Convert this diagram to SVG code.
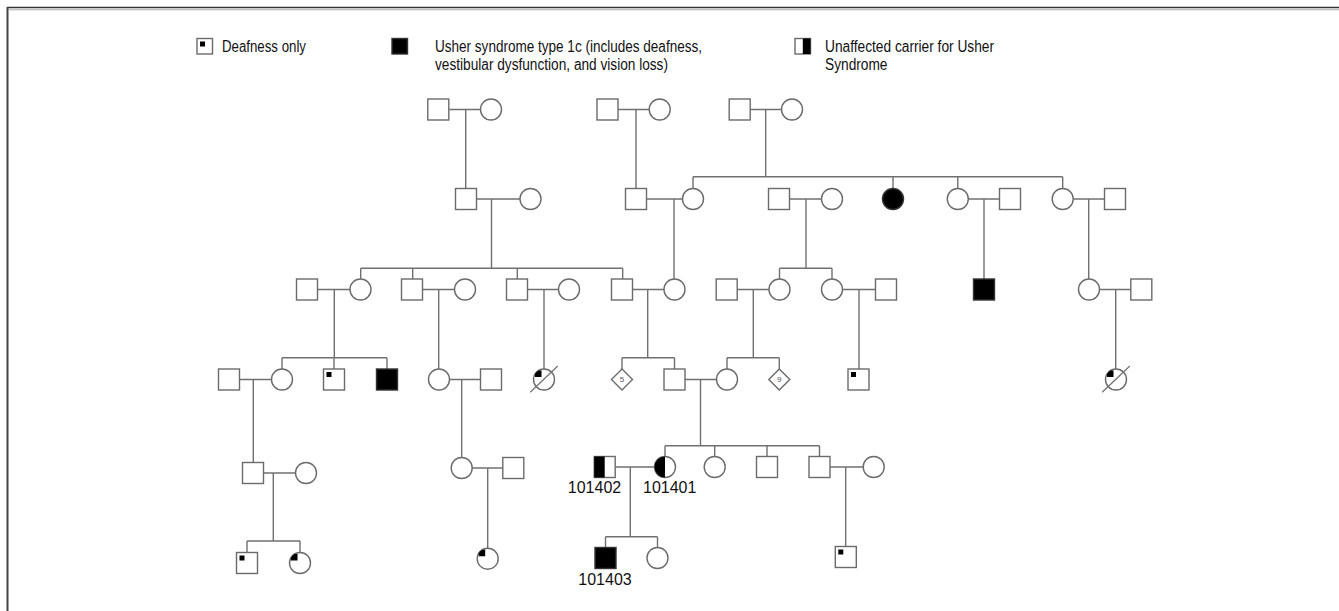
<svg xmlns="http://www.w3.org/2000/svg" xmlns:xlink="http://www.w3.org/1999/xlink" width="1339" height="611" viewBox="0 0 1339 611">
<style>
.n{fill:#fff;stroke:#6b6b6b;stroke-width:1.4}
.b{fill:#000;stroke:#333;stroke-width:1.4}
.k{fill:#000;stroke:none}
.c path{fill:none;stroke:#707070;stroke-width:1.4}
.d{stroke:#707070;stroke-width:1.2}
text{font-family:"Liberation Sans",Arial,Helvetica,sans-serif;fill:#111}
.lg{font-size:16px}
.id{font-size:16px}
.dm{font-size:8px;fill:#555;text-anchor:middle}
</style>
<defs>
<path id="cm" class="k" d="M-2.5-2.5V-9H-5.41A10.5 10.5 0 0 0 -9 -5.41V-2.5Z"/>
</defs>
<rect width="1339" height="611" fill="#fff"/>
<g id="frame">
<line x1="7" y1="7.5" x2="1339" y2="7.5" stroke="#333" stroke-width="1.5"/>
<line x1="9" y1="9.8" x2="1339" y2="9.8" stroke="#aaa" stroke-width="1"/>
<line x1="7.5" y1="7" x2="7.5" y2="611" stroke="#444" stroke-width="2"/>
</g>
<g id="legend">
<rect class="n" x="197" y="38.5" width="15.5" height="15.5"/>
<rect class="k" x="200" y="41.5" width="5" height="5"/>
<text class="lg" x="222" y="51.5" textLength="84" lengthAdjust="spacingAndGlyphs">Deafness only</text>
<rect class="b" x="392" y="38.5" width="15.5" height="15.5"/>
<text class="lg" x="435" y="51.5" textLength="267" lengthAdjust="spacingAndGlyphs">Usher syndrome type 1c (includes deafness,</text>
<text class="lg" x="435" y="69.5" textLength="233" lengthAdjust="spacingAndGlyphs">vestibular dysfunction, and vision loss)</text>
<rect class="n" x="795" y="38.5" width="15.5" height="15.5"/>
<rect class="k" x="802.8" y="38.5" width="7.7" height="15.5"/>
<text class="lg" x="825" y="51.5" textLength="169" lengthAdjust="spacingAndGlyphs">Unaffected carrier for Usher</text>
<text class="lg" x="825" y="69.5" textLength="62.5" lengthAdjust="spacingAndGlyphs">Syndrome</text>
</g>
<g class="c" id="connectors">
<path d="M449.3 109.5H480.5M465.7 109.5V188.5M618.3 109.5H649.2M636 109.5V188.5M750.2 109.5H781.5M765.7 109.5V176.7M693 176.7H1062.7M693 176.7V188.5M893 176.7V188.5M957.8 176.7V188.5M1062.7 176.7V188.5"/>
<path d="M476.5 199H520M491.5 199V268.3M646.5 199H682.5M674 199V279M789.5 199H821.5M806 199V268.3M968.3 199H999.5M984 199V279M1073.2 199H1104.5M1088.7 199V279"/>
<path d="M360.7 268.3H622.7M360.7 268.3V279M412.7 268.3V279M517.3 268.3V279M622.7 268.3V279M317.5 289.5H350M334.3 289.5V357.7M422.5 289.5H454.5M438.7 289.5V369M527.5 289.5H558.5M544 289.5V369M632.5 289.5H664M647.7 289.5V357.7M779.5 268.3H832M779.5 268.3V279M832 268.3V279M737.2 289.5H769M753.3 289.5V357.7M842.5 289.5H875.5M859 289.5V369M1099.5 289.5H1130.8M1115.7 289.5V369"/>
<path d="M282 357.7H387M282 357.7V369M334 357.7V369M387 357.7V369M239.5 379.5H271.5M253.3 379.5V462.5M449.5 379.5H480.5M461.7 379.5V457.5M622 357.7H674.5M622 357.7V369M674.5 357.7V369M685 379.5H716.5M700.5 379.5V445.7M727 357.7H779.3M727 357.7V369M779.3 357.7V369"/>
<path d="M263.5 473H295.5M273.3 473V541M247 541H300M247 541V552.5M300 541V552.5M472.2 468H502.8M487.7 468V548.2M665 445.7H819.5M665 445.7V456.5M714.7 445.7V456.5M767 445.7V456.5M819.5 445.7V456.5M615.2 467H654.5M630.3 467V536.7M605.5 536.7H657.5M605.5 536.7V547.5M657.5 536.7V547.5M830 467H863.2M845.7 467V546.5"/>
</g>
<g id="gen1">
<g id="g1a-m"><rect class="n" x="427.8" y="99" width="21" height="21"/></g>
<g id="g1a-f"><circle class="n" cx="491" cy="109.5" r="10.5"/></g>
<g id="g1b-m"><rect class="n" x="597" y="99" width="21" height="21"/></g>
<g id="g1b-f"><circle class="n" cx="659.7" cy="109.5" r="10.5"/></g>
<g id="g1c-m"><rect class="n" x="729.2" y="99" width="21" height="21"/></g>
<g id="g1c-f"><circle class="n" cx="792" cy="109.5" r="10.5"/></g>
</g>
<g id="gen2">
<g id="g2-1"><rect class="n" x="455.5" y="188.5" width="21" height="21"/></g>
<g id="g2-2"><circle class="n" cx="530.5" cy="199" r="10.5"/></g>
<g id="g2-3"><rect class="n" x="625.5" y="188.5" width="21" height="21"/></g>
<g id="g2-4"><circle class="n" cx="693" cy="199" r="10.5"/></g>
<g id="g2-5"><rect class="n" x="768.5" y="188.5" width="21" height="21"/></g>
<g id="g2-6"><circle class="n" cx="832" cy="199" r="10.5"/></g>
<g id="g2-7"><circle class="b" cx="893" cy="199" r="10.5"/></g>
<g id="g2-8"><circle class="n" cx="957.8" cy="199" r="10.5"/></g>
<g id="g2-9"><rect class="n" x="999.5" y="188.5" width="21" height="21"/></g>
<g id="g2-10"><circle class="n" cx="1062.7" cy="199" r="10.5"/></g>
<g id="g2-11"><rect class="n" x="1104.5" y="188.5" width="21" height="21"/></g>
</g>
<g id="gen3">
<g id="g3-1"><rect class="n" x="296.5" y="279" width="21" height="21"/></g>
<g id="g3-2"><circle class="n" cx="360.5" cy="289.5" r="10.5"/></g>
<g id="g3-3"><rect class="n" x="401.5" y="279" width="21" height="21"/></g>
<g id="g3-4"><circle class="n" cx="465" cy="289.5" r="10.5"/></g>
<g id="g3-5"><rect class="n" x="506.5" y="279" width="21" height="21"/></g>
<g id="g3-6"><circle class="n" cx="569" cy="289.5" r="10.5"/></g>
<g id="g3-7"><rect class="n" x="611.5" y="279" width="21" height="21"/></g>
<g id="g3-8"><circle class="n" cx="674.5" cy="289.5" r="10.5"/></g>
<g id="g3-9"><rect class="n" x="716.2" y="279" width="21" height="21"/></g>
<g id="g3-10"><circle class="n" cx="779.5" cy="289.5" r="10.5"/></g>
<g id="g3-11"><circle class="n" cx="832" cy="289.5" r="10.5"/></g>
<g id="g3-12"><rect class="n" x="875.5" y="279" width="21" height="21"/></g>
<g id="g3-13"><rect class="b" x="973.5" y="279" width="21" height="21"/></g>
<g id="g3-14"><circle class="n" cx="1089" cy="289.5" r="10.5"/></g>
<g id="g3-15"><rect class="n" x="1130.8" y="279" width="21" height="21"/></g>
</g>
<g id="gen4">
<g id="g4-1"><rect class="n" x="218.5" y="369" width="21" height="21"/></g>
<g id="g4-2"><circle class="n" cx="282" cy="379.5" r="10.5"/></g>
<g id="g4-3"><rect class="n" x="323.5" y="369" width="21" height="21"/><rect class="k" x="326.5" y="372" width="5" height="5"/></g>
<g id="g4-4"><rect class="b" x="376.5" y="369" width="21" height="21"/></g>
<g id="g4-5"><circle class="n" cx="439" cy="379.5" r="10.5"/></g>
<g id="g4-6"><rect class="n" x="480.5" y="369" width="21" height="21"/></g>
<g id="g4-7"><circle class="n" cx="544" cy="379.5" r="10.5"/><use xlink:href="#cm" x="544" y="379.5"/><line class="d" x1="530.2" y1="392.3" x2="557.8" y2="366"/></g>
<g id="g4-8"><path class="n" d="M622 369L632.5 379.5L622 390L611.5 379.5Z"/><text class="dm" x="622" y="382.3">5</text></g>
<g id="g4-9"><rect class="n" x="664" y="369" width="21" height="21"/></g>
<g id="g4-10"><circle class="n" cx="727" cy="379.5" r="10.5"/></g>
<g id="g4-11"><path class="n" d="M779.3 369L789.8 379.5L779.3 390L768.8 379.5Z"/><text class="dm" x="779.3" y="382.3">9</text></g>
<g id="g4-12"><rect class="n" x="848" y="369" width="21" height="21"/><rect class="k" x="851" y="372" width="5" height="5"/></g>
<g id="g4-13"><circle class="n" cx="1116" cy="379.5" r="10.5"/><use xlink:href="#cm" x="1116" y="379.5"/><line class="d" x1="1102.2" y1="392.3" x2="1129.8" y2="366"/></g>
</g>
<g id="gen5">
<g id="g5-1"><rect class="n" x="242.5" y="462.5" width="21" height="21"/></g>
<g id="g5-2"><circle class="n" cx="306" cy="473" r="10.5"/></g>
<g id="g5-3"><circle class="n" cx="461.7" cy="468" r="10.5"/></g>
<g id="g5-4"><rect class="n" x="502.8" y="457.5" width="21" height="21"/></g>
<g id="p101402"><rect class="n" x="594.2" y="456.5" width="21" height="21"/><rect class="k" x="594.2" y="456.5" width="10.5" height="21"/><text class="id" x="594.5" y="492.7" text-anchor="middle">101402</text></g>
<g id="p101401"><circle class="n" cx="665" cy="467" r="10.5"/><path class="k" d="M665 456.5A10.5 10.5 0 0 0 665 477.5Z"/><text class="id" x="669.7" y="492.7" text-anchor="middle">101401</text></g>
<g id="g5-7"><circle class="n" cx="714.7" cy="467" r="10.5"/></g>
<g id="g5-8"><rect class="n" x="756.5" y="456.5" width="21" height="21"/></g>
<g id="g5-9"><rect class="n" x="809" y="456.5" width="21" height="21"/></g>
<g id="g5-10"><circle class="n" cx="873.7" cy="467" r="10.5"/></g>
</g>
<g id="gen6">
<g id="g6-1"><rect class="n" x="236.5" y="552.5" width="21" height="21"/><rect class="k" x="239.5" y="555.5" width="5" height="5"/></g>
<g id="g6-2"><circle class="n" cx="300" cy="563" r="10.5"/><use xlink:href="#cm" x="300" y="563"/></g>
<g id="g6-3"><circle class="n" cx="487.7" cy="558.7" r="10.5"/><use xlink:href="#cm" x="487.7" y="558.7"/></g>
<g id="p101403"><rect class="b" x="595" y="547.5" width="21" height="21"/><text class="id" x="605" y="585" text-anchor="middle">101403</text></g>
<g id="g6-5"><circle class="n" cx="657.5" cy="558" r="10.5"/></g>
<g id="g6-6"><rect class="n" x="835.3" y="546.5" width="21" height="21"/><rect class="k" x="838.3" y="549.5" width="5" height="5"/></g>
</g>
</svg>
